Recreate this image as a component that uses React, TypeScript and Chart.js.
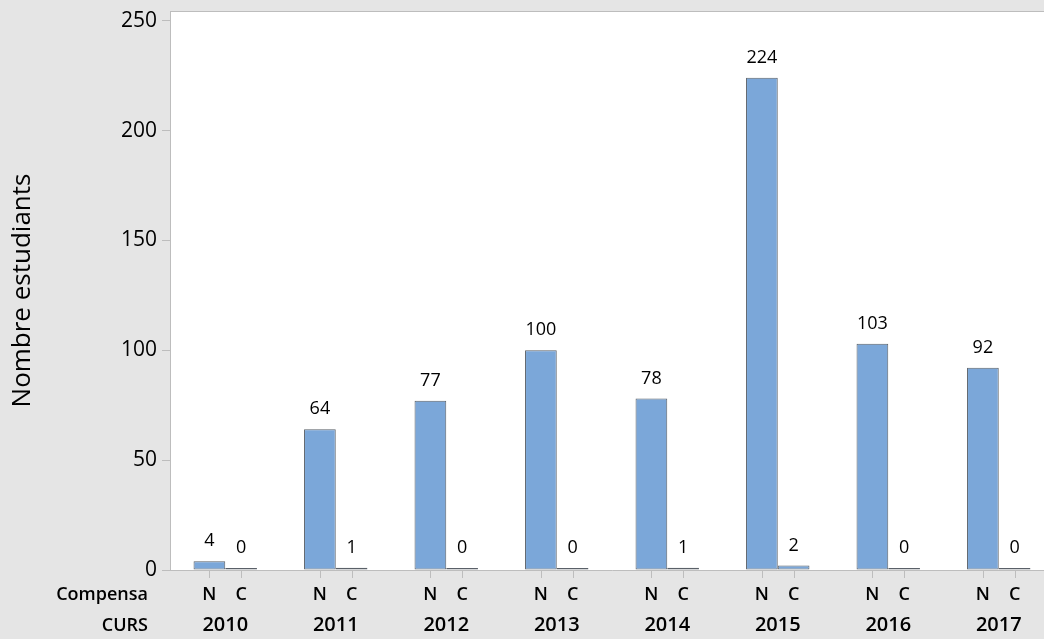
import React, { useEffect, useRef } from 'react';
import { Chart, registerables } from 'chart.js';

Chart.register(...registerables);

const years = ['2010', '2011', '2012', '2013', '2014', '2015', '2016', '2017'];
const groupLabels = ['N', 'C'];
const valuesN = [4, 64, 77, 100, 78, 224, 103, 92];
const valuesC = [0, 1, 0, 0, 1, 2, 0, 0];
const yTicks = [0, 50, 100, 150, 200, 250];
const yMax = 254.4;
const yTitle = 'Nombre estudiants';
const row1Title = 'Compensa';
const row2Title = 'CURS';

const FONT = "'Open Sans', 'Noto Sans', sans-serif";
const PAGE_BG = '#e5e5e5';
const BAR = '#7ba7d9';
const BAR_BORDER = '#5a6068';
const AXIS = '#bdbdbd';

export default function App() {
  const ref = useRef<HTMLCanvasElement>(null);

  useEffect(() => {
    document.body.style.margin = '0';
    document.body.style.background = PAGE_BG;
    const canvas = ref.current!;

    const bgPlugin = {
      id: 'bg',
      beforeDraw(chart: any) {
        const { ctx, chartArea: a, width, height } = chart;
        ctx.save();
        ctx.fillStyle = PAGE_BG;
        ctx.fillRect(0, 0, width, height);
        ctx.fillStyle = '#ffffff';
        ctx.fillRect(a.left, a.top, a.right - a.left, a.bottom - a.top);
        ctx.strokeStyle = AXIS;
        ctx.lineWidth = 1;
        ctx.beginPath();
        ctx.moveTo(a.left, a.top + 0.5);
        ctx.lineTo(a.right, a.top + 0.5);
        ctx.stroke();
        ctx.restore();
      },
    };

    const labelsPlugin = {
      id: 'lbl',
      afterDatasetsDraw(chart: any) {
        const { ctx, chartArea: a } = chart;
        ctx.save();
        ctx.fillStyle = '#000';
        ctx.textAlign = 'center';
        ctx.textBaseline = 'alphabetic';
        ctx.font = `18px ${FONT}`;
        chart.data.datasets.forEach((ds: any, di: number) => {
          const meta = chart.getDatasetMeta(di);
          meta.data.forEach((bar: any, i: number) => {
            ctx.fillText(String(ds.data[i]), bar.x, bar.y - 15);
          });
        });
        ctx.strokeStyle = AXIS;
        ctx.lineWidth = 1;
        ctx.font = `600 18px ${FONT}`;
        ctx.textBaseline = 'middle';
        chart.data.datasets.forEach((ds: any, di: number) => {
          const meta = chart.getDatasetMeta(di);
          meta.data.forEach((bar: any) => {
            const x = Math.round(bar.x) + 0.5;
            ctx.beginPath();
            ctx.moveTo(x, a.bottom);
            ctx.lineTo(x, a.bottom + 8);
            ctx.stroke();
            ctx.fillText(groupLabels[di], bar.x, a.bottom + 25);
          });
        });
        ctx.textAlign = 'right';
        ctx.fillText(row1Title, a.left - 22, a.bottom + 25);
        ctx.fillText(row2Title, a.left - 22, a.bottom + 56);
        ctx.restore();
      },
    };

    const barStyle = {
      backgroundColor: BAR,
      borderColor: BAR_BORDER,
      borderWidth: 1,
      borderSkipped: false,
      minBarLength: 2,
      categoryPercentage: 0.574,
      barPercentage: 1,
    };

    const chart = new Chart(canvas, {
      type: 'bar',
      data: {
        labels: years,
        datasets: [
          { label: groupLabels[0], data: valuesN, ...barStyle },
          { label: groupLabels[1], data: valuesC, ...barStyle },
        ],
      },
      options: {
        responsive: false,
        animation: false,
        devicePixelRatio: 1,
        layout: { padding: { top: 11, right: 0, left: 0, bottom: 0 } },
        plugins: { legend: { display: false }, tooltip: { enabled: false } },
        scales: {
          x: {
            grid: { display: false },
            border: { display: true, color: AXIS },
            ticks: {
              font: { family: FONT, size: 20, weight: '600', lineHeight: '74px' },
              color: '#000',
              padding: 10,
              maxRotation: 0,
              autoSkip: false,
            },
            afterFit(s: any) {
              s.height = 69;
            },
          },
          y: {
            min: 0,
            max: yMax,
            afterBuildTicks(s: any) {
              s.ticks = yTicks.map((v) => ({ value: v }));
            },
            grid: { drawOnChartArea: false, color: AXIS, tickLength: 8 },
            border: { display: true, color: AXIS },
            ticks: { font: { family: FONT, size: 21, lineHeight: '12px' }, color: '#000', padding: 5 },
            title: {
              display: true,
              text: yTitle,
              font: { family: FONT, size: 26 },
              color: '#000',
              padding: { top: 7, bottom: 0 },
            },
            afterFit(s: any) {
              s.width = 170;
            },
          },
        },
      } as any,
      plugins: [bgPlugin, labelsPlugin],
    });

    return () => chart.destroy();
  }, []);

  return (
    <div style={{ width: 1044, height: 639, overflow: 'hidden', position: 'relative', background: PAGE_BG }}>
      <canvas ref={ref} width={1054} height={639} style={{ width: 1054, height: 639, display: 'block' }} />
    </div>
  );
}
